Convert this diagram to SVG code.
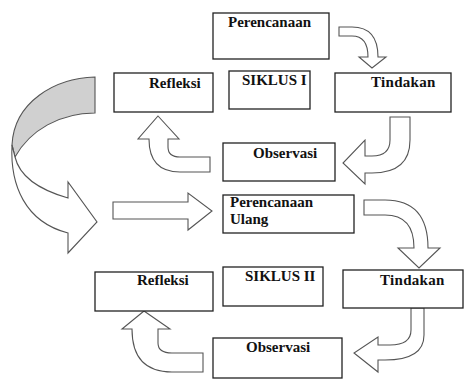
<svg xmlns="http://www.w3.org/2000/svg" width="464" height="379" viewBox="0 0 464 379">
<style>
.box{fill:#fff;stroke:#222;stroke-width:1.3}
.arr{fill:#fff;stroke:#555;stroke-width:1.1;stroke-linejoin:miter}
.gray{fill:#d0d0d0;stroke:#555;stroke-width:1.1}
.t{font-family:'Liberation Serif','Times New Roman',serif;font-weight:700;font-size:15px;fill:#111}
</style>
<rect width="464" height="379" fill="#fff"/>
<g id="connectors">
<path class="arr" d="M339,27 L352,27 Q378,27 378,57 L386,57 L372,68 L359,57 L368,57 Q368,36 352,36 L339,36 Z"/>
<path class="arr" d="M158,116 L179,139 L168,139 L168,147 Q168,157 180,157 L210,157 L210,172 L180,172 Q149,172 149,139 L138,139 Z"/>
<path class="arr" d="M390,117 L410,117 L410,140 Q410,173 372,173 L365,173 L365,184 L343,163 L365,140 L365,156 L372,156 Q390,156 390,140 Z"/>
<path class="gray" d="M95,77 C55,78 14,102 12,145 L15,157 C30,130 60,113 95,113 Z"/>
<path class="arr" d="M12,145 C10,185 25,222 68,233 L68,253 L97,222 L68,182 L68,198 C40,190 20,178 15,157 Z"/>
<path class="arr" d="M113,202 L188,202 L188,193 L212,211 L188,230 L188,219 L113,219 Z"/>
<path class="arr" d="M364,200 L385,200 Q428,200 428,248 L440,248 L419,268 L398,248 L414,248 Q414,215 385,215 L364,215 Z"/>
<path class="arr" d="M411,308 L424,308 L424,335 Q424,360 385,360 L378,360 L378,372 L354,353 L378,337 L378,345 L390,345 Q411,345 411,330 Z"/>
<path class="arr" d="M144,311 L170,329 L158,329 L158,343 Q158,353 172,353 L203,353 L203,372 L172,372 Q132,372 132,329 L122,329 Z"/>
</g>
<g id="perencanaan"><rect class="box" x="213" y="13" width="116" height="46"/><text class="t" x="228" y="27">Perencanaan</text></g>
<g id="refleksi1"><rect class="box" x="114" y="73" width="99" height="39"/><text class="t" x="149" y="88">Refleksi</text></g>
<g id="siklus1"><rect class="box" x="229" y="71" width="81" height="38"/><text class="t" x="242" y="85">SIKLUS I</text></g>
<g id="tindakan1"><rect class="box" x="335" y="73" width="116" height="39"/><text class="t" x="371" y="87" letter-spacing="0.3">Tindakan</text></g>
<g id="observasi1"><rect class="box" x="223" y="143" width="112" height="38"/><text class="t" x="253" y="158">Observasi</text></g>
<g id="perencanaan-ulang"><rect class="box" x="223" y="195" width="131" height="38"/><text class="t" x="230" y="207">Perencanaan</text><text class="t" x="230" y="224">Ulang</text></g>
<g id="refleksi2"><rect class="box" x="95" y="272" width="118" height="39"/><text class="t" x="137" y="285">Refleksi</text></g>
<g id="siklus2"><rect class="box" x="223" y="267" width="100" height="39"/><text class="t" x="245" y="281">SIKLUS II</text></g>
<g id="tindakan2"><rect class="box" x="343" y="270" width="120" height="38"/><text class="t" x="380" y="285" letter-spacing="0.3">Tindakan</text></g>
<g id="observasi2"><rect class="box" x="213" y="338" width="129" height="40"/><text class="t" x="246" y="352">Observasi</text></g>
</svg>
